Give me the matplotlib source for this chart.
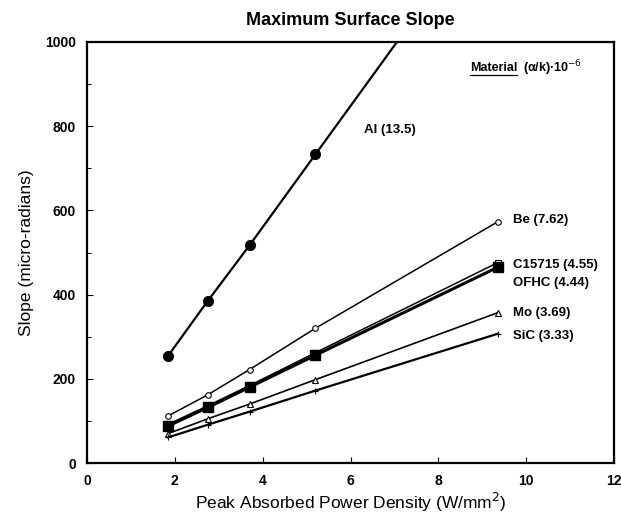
import matplotlib
matplotlib.use("Agg")
import matplotlib.pyplot as plt
from matplotlib.lines import Line2D
import numpy as np

plt.rcParams['font.family'] = ['Liberation Sans', 'DejaVu Sans']

power = [1.85, 2.75, 3.7, 5.2, 9.35]
al = [255, 385, 517, 733, 1330]
be = [112, 162, 222, 320, 573]
c15715 = [92, 136, 184, 262, 476]
ofhc = [88, 132, 180, 256, 465]
mo = [70, 105, 140, 198, 357]
sic = [61, 91, 122, 172, 307]

labels = ["Al (13.5)", "Be (7.62)", "C15715 (4.55)", "OFHC (4.44)", "Mo (3.69)", "SiC (3.33)"]
xticks = [0, 2, 4, 6, 8, 10, 12]
yticks = [0, 200, 400, 600, 800, 1000]

fig = plt.figure(figsize=(6.21, 5.17), dpi=100)
ax = fig.add_axes([0.140, 0.1044, 0.849, 0.8144])

ax.plot(power, al, color='black', lw=1.6, marker='o', ms=7, mfc='black')
ax.plot(power, be, color='black', lw=1.1, marker='o', ms=4, mfc='white', mew=0.8)
ax.plot(power, c15715, color='black', lw=1.1, marker='s', ms=5, mfc='white', mew=0.8)
ax.plot(power, ofhc, color='black', lw=2.2, marker='s', ms=7, mfc='black')
ax.plot(power, mo, color='black', lw=1.2, marker='^', ms=4, mfc='white', mew=0.8)
ax.plot(power, sic, color='black', lw=1.6, marker='+', ms=4, mew=0.8)

ax.set_xlim(0, 12)
ax.set_ylim(0, 1000)
ax.set_xticks(xticks)
ax.set_yticks(yticks)
ax.set_yticks(np.arange(100, 1000, 200), minor=True)
ax.tick_params(direction='in', length=4, width=0.8, labelsize=10, pad=8)
ax.tick_params(which='minor', direction='in', length=3, width=0.7)
for lab in ax.get_xticklabels() + ax.get_yticklabels():
    lab.set_fontweight('bold')
for s in ax.spines.values():
    s.set_linewidth(1.6)

ax.set_xlabel("Peak Absorbed Power Density (W/mm$^2$)", fontsize=12.5, labelpad=2)
ax.set_ylabel("Slope (micro-radians)", fontsize=12.5, labelpad=8)
ax.set_title("Maximum Surface Slope", fontsize=13, fontweight='bold', pad=12)

tkw = dict(fontsize=9.5, fontweight='bold', va='center', ha='left')
ax.text(6.3, 790, labels[0], **tkw)
ax.text(9.7, 577, labels[1], **tkw)
ax.text(9.7, 470, labels[2], **tkw)
ax.text(9.7, 428, labels[3], **tkw)
ax.text(9.7, 356, labels[4], **tkw)
ax.text(9.7, 302, labels[5], **tkw)

mat = ax.text(8.72, 938, "Material", fontsize=9, fontweight='bold', va='center', ha='left')
ax.text(9.92, 938, "(α/k)·10$^{-6}$", fontsize=9, fontweight='bold', va='center', ha='left')

fig.canvas.draw()
bb = mat.get_window_extent().transformed(fig.transFigure.inverted())
fig.add_artist(Line2D([bb.x0, bb.x1], [bb.y0 - 0.002, bb.y0 - 0.002], color='black', lw=0.9,
                      transform=fig.transFigure))

fig.savefig("out.png", dpi=100)
